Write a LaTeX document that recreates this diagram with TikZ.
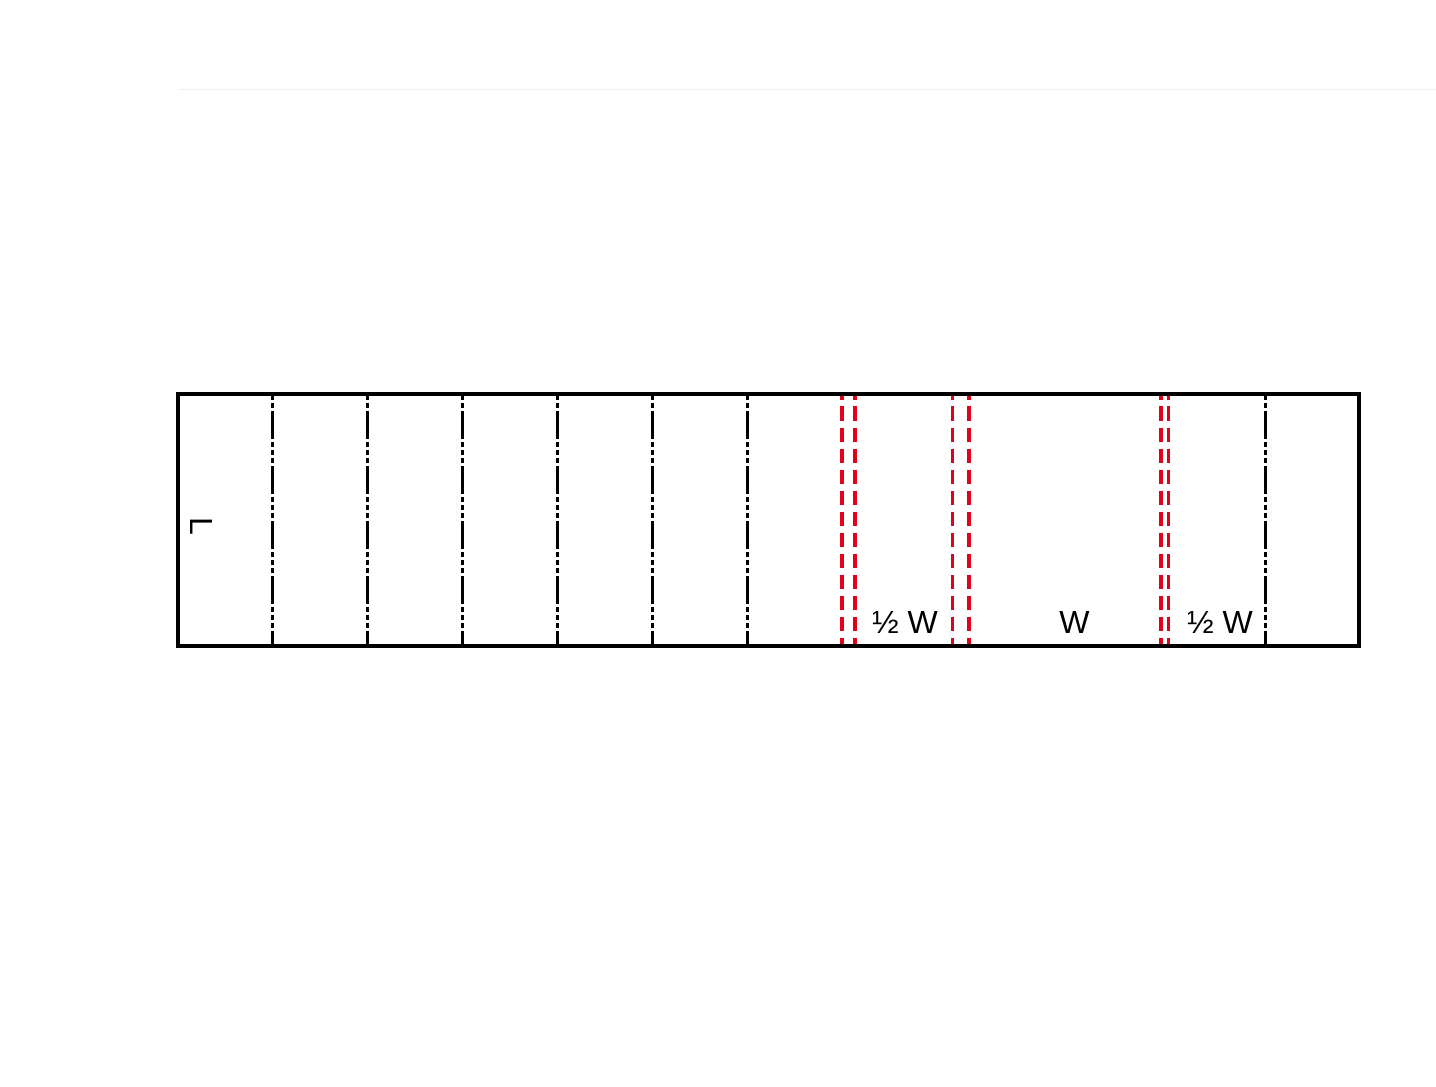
\documentclass[tikz,border=0pt]{standalone}
\usepackage{fontspec}
\setmainfont{Liberation Sans}
\definecolor{cutred}{RGB}{226,0,26}
\definecolor{faint}{RGB}{240,240,240}
\begin{document}
\begin{tikzpicture}[x=1pt,y=-1pt,
  frame/.style={line width=4pt, black},
  foldline/.style={line width=3pt, black,
    dash pattern=on 27.5pt off 3.5pt on 4.5pt off 3.5pt on 4.5pt off 3.5pt on 4.5pt off 3.5pt,
    dash phase=38pt},
  cutline/.style={line width=3.5pt, cutred, dash pattern=on 14.5pt off 6.55pt, dash phase=8.6pt},
  lbl/.style={font=\fontsize{32}{36}\selectfont, inner sep=0pt, anchor=base}]
\useasboundingbox (0,0) rectangle (1436,1087);
\fill[white] (0,0) rectangle (1436,1087);
% faint guide line at top
\coordinate (gA) at (178,89);
\coordinate (gB) at (1436,89);
\draw[faint, line width=1pt] (gA) -- (gB);
% black fold lines
\foreach \x [count=\i] in {272,367,462,557,652,747,1265}{
  \coordinate (ft\i) at (\x,394);
  \coordinate (fb\i) at (\x,646);
  \draw[foldline] (ft\i) -- (fb\i);
}
% red cut lines
\foreach \x [count=\i] in {842,855,952.5,969,1161,1168.5}{
  \coordinate (ct\i) at (\x,394);
  \coordinate (cb\i) at (\x,646);
  \draw[cutline] (ct\i) -- (cb\i);
}
% outer frame
\coordinate (nw) at (178,394);
\coordinate (se) at (1359,646);
\draw[frame] (nw) rectangle (se);
% labels
\node[lbl] (halfA) at (905,633) {½ W};
\node[lbl] (wide) at (1074.5,633) {W};
\node[lbl] (halfB) at (1220,633) {½ W};
\node[font=\fontsize{32}{36}\selectfont, inner sep=0pt, rotate=-90] (len) at (202,526) {L};
\end{tikzpicture}
\end{document}
